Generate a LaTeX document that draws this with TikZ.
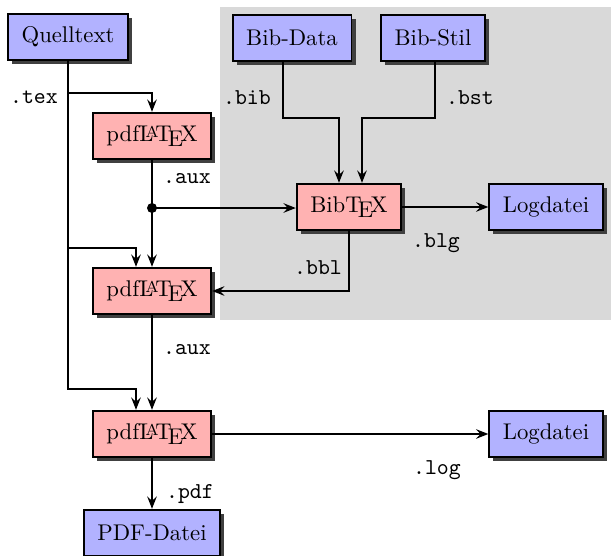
\documentclass[tikz,border=0pt]{standalone}
\usepackage{tikz}
\usetikzlibrary{shadows,arrows.meta,calc}
\tikzset{
  box/.style={draw, thick, inner xsep=6pt, inner ysep=3pt, minimum height=20.5pt,
    drop shadow={shadow xshift=1.8pt, shadow yshift=-1.8pt, fill=black!75, opacity=1}},
  src/.style={box, fill=blue!30},
  tool/.style={box, fill=red!30},
  arr/.style={thick, -{Stealth[length=5.4pt, width=4.2pt, inset=1.9pt]}},
  lbl/.style={font=\ttfamily, inner sep=1pt}
}
\begin{document}
\begin{tikzpicture}[x=0.44pt,y=0.44pt,yscale=-1,xscale=1]
        \useasboundingbox (0,0) rectangle (611,556);
        % grey region for the BibTeX run
        \fill[black!15] (220,7) rectangle (611,320);
        % Nodes
        \node[src]  (qtext)   at (68,37)   {Quelltext};
        \node[tool] (pdfa)    at (152,136) {pdf\LaTeX};
        \node[tool] (pdfb)    at (152,291) {pdf\LaTeX};
        \node[tool] (pdfc)    at (152,434) {pdf\LaTeX};
        \node[src]  (pdfout)  at (152,533) {PDF-Datei};
        \node[src]  (bibdata) at (292,38)  {Bib-Data};
        \node[src]  (bibstil) at (433,38)  {Bib-Stil};
        \node[tool] (bibtex)  at (349,207) {Bib\TeX};
        \node[src]  (loga)    at (546,207) {Logdatei};
        \node[src]  (logb)    at (546,434) {Logdatei};
        % Helper points
        \coordinate (t1) at (152,93);
        \coordinate (t2) at (136,248);
        \coordinate (t3) at (136,389);
        \coordinate (d)  at (152,208);
        \coordinate (b1) at (283,118);
        \coordinate (b2) at (339,118);
        \coordinate (b3) at (435,118);
        \coordinate (b4) at (362,118);
        % Connectors
        \draw[arr] (qtext.south) |- (t1) -- (pdfa.north);
        \draw[arr] (qtext.south) |- (t2) -- (t2 |- pdfb.north);
        \draw[arr] (qtext.south) |- (t3) -- (t3 |- pdfc.north);
        \draw[arr] (pdfa.south) -- (pdfb.north);
        \fill (d) circle (2.2pt);
        \draw[arr] (d) -- (d -| bibtex.west);
        \draw[arr] (bibdata.south -| b1) -- (b1) -- (b2) -- (b2 |- bibtex.north);
        \draw[arr] (bibstil.south -| b3) -- (b3) -- (b4) -- (b4 |- bibtex.north);
        \draw[arr] (bibtex.east) -- (loga.west);
        \draw[arr] (bibtex.south) |- (pdfb.east);
        \draw[arr] (pdfb.south) -- (pdfc.north);
        \draw[arr] (pdfc.east) -- (logb.west);
        \draw[arr] (pdfc.south) -- (pdfout.north);
        % Labels
        \node[lbl] (ltex)  at (34,97)   {.tex};
        \node[lbl] (laux)  at (187,179) {.aux};
        \node[lbl] (lbib)  at (247,98)  {.bib};
        \node[lbl] (lbst)  at (470,98)  {.bst};
        \node[lbl] (lblg)  at (436,243) {.blg};
        \node[lbl] (lbbl)  at (318,268) {.bbl};
        \node[lbl] (lauxb) at (187,350) {.aux};
        \node[lbl] (llog)  at (437,470) {.log};
        \node[lbl] (lpdf)  at (190,494) {.pdf};
\end{tikzpicture}
\end{document}
